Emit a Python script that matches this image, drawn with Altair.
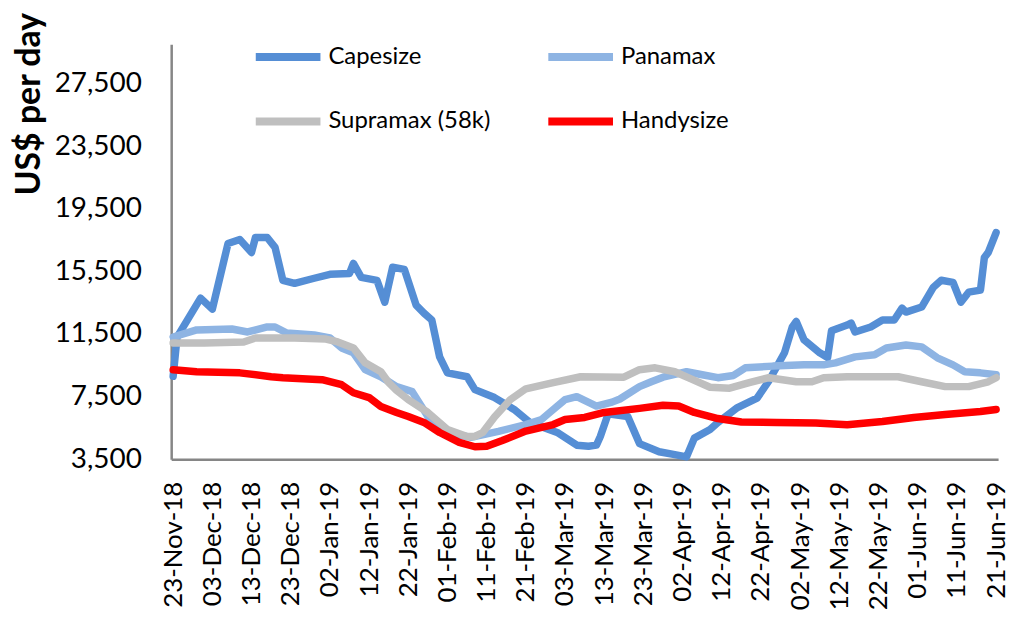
import altair as alt
import pandas as pd

# ---------------- data ----------------
series_names = ["Capesize", "Panamax", "Supramax (58k)", "Handysize"]
series_colors = ["#558ED5", "#8EB4E3", "#BFBFBF", "#FF0000"]
# legend fills column by column, so list the names in that order
legend_order = ["Capesize", "Supramax (58k)", "Panamax", "Handysize"]
legend_colors = ["#558ED5", "#BFBFBF", "#8EB4E3", "#FF0000"]

cape_dates = ["2018-11-23", "2018-11-24", "2018-11-30", "2018-12-03", "2018-12-07", "2018-12-10",
              "2018-12-13", "2018-12-14", "2018-12-17", "2018-12-19", "2018-12-21", "2018-12-24",
              "2018-12-29", "2019-01-02", "2019-01-07", "2019-01-08", "2019-01-10", "2019-01-14",
              "2019-01-16", "2019-01-18", "2019-01-21", "2019-01-24", "2019-01-26", "2019-01-28",
              "2019-01-30", "2019-02-01", "2019-02-06", "2019-02-08", "2019-02-13", "2019-02-18",
              "2019-02-22", "2019-03-01", "2019-03-06", "2019-03-09", "2019-03-11", "2019-03-12",
              "2019-03-14", "2019-03-19", "2019-03-22", "2019-03-27", "2019-03-31", "2019-04-03",
              "2019-04-05", "2019-04-09", "2019-04-11", "2019-04-16", "2019-04-21", "2019-04-24",
              "2019-04-28", "2019-04-30", "2019-05-01", "2019-05-03", "2019-05-07", "2019-05-09",
              "2019-05-10", "2019-05-14", "2019-05-15", "2019-05-16", "2019-05-20", "2019-05-23",
              "2019-05-26", "2019-05-28", "2019-05-29", "2019-06-02", "2019-06-05", "2019-06-07",
              "2019-06-10", "2019-06-12", "2019-06-14", "2019-06-17", "2019-06-18", "2019-06-19",
              "2019-06-21"]
cape_vals = [8800, 11300, 13790, 13090, 17280, 17530,
             16710, 17660, 17660, 17030, 14930, 14740,
             15060, 15310, 15370, 16010, 15120, 14930,
             13530, 15760, 15630, 13340, 12830, 12390,
             10040, 9020, 8770, 7950, 7440, 6680,
             5850, 5210, 4400, 4330, 4400, 4960,
             6400, 6230, 4500, 3980, 3800, 3650,
             4850, 5400, 5850, 6800, 7400, 8500,
             10300, 11950, 12300, 11120, 10300, 10000,
             11700, 12070, 12200, 11630, 11950, 12390,
             12390, 13150, 12900, 13220, 14490, 14930,
             14800, 13530, 14170, 14300, 16390, 16710,
             17980]

pana_dates = ["2018-11-23", "2018-11-29", "2018-12-08", "2018-12-12", "2018-12-17", "2018-12-19",
              "2018-12-22", "2018-12-29", "2019-01-02", "2019-01-05", "2019-01-08", "2019-01-11",
              "2019-01-15", "2019-01-19", "2019-01-23", "2019-01-27", "2019-02-01", "2019-02-07",
              "2019-02-14", "2019-02-21", "2019-02-25", "2019-02-28", "2019-03-03", "2019-03-06",
              "2019-03-11", "2019-03-15", "2019-03-17", "2019-03-22", "2019-03-25", "2019-03-28",
              "2019-04-03", "2019-04-07", "2019-04-11", "2019-04-15", "2019-04-18", "2019-04-25",
              "2019-05-03", "2019-05-08", "2019-05-11", "2019-05-16", "2019-05-21", "2019-05-24",
              "2019-05-29", "2019-06-02", "2019-06-06", "2019-06-10", "2019-06-13", "2019-06-17",
              "2019-06-21"]
pana_vals = [11310, 11760, 11820, 11630, 11950, 11950,
             11560, 11440, 11250, 10610, 10300, 9220,
             8770, 8140, 7820, 6230, 5210, 4900,
             5280, 5720, 6040, 6680, 7310, 7500,
             6900, 7150, 7350, 8140, 8450, 8740,
             9090, 8900, 8710, 8850, 9340, 9450,
             9530, 9530, 9660, 10040, 10170, 10610,
             10800, 10680, 9980, 9530, 9090, 9020,
             8900]

supra_dates = ["2018-11-23", "2018-12-01", "2018-12-11", "2018-12-14", "2018-12-19", "2018-12-24",
               "2019-01-01", "2019-01-04", "2019-01-08", "2019-01-11", "2019-01-15", "2019-01-17",
               "2019-01-19", "2019-01-22", "2019-01-27", "2019-02-01", "2019-02-06", "2019-02-08",
               "2019-02-10", "2019-02-13", "2019-02-17", "2019-02-21", "2019-02-28", "2019-03-07",
               "2019-03-18", "2019-03-22", "2019-03-26", "2019-03-31", "2019-04-04", "2019-04-09",
               "2019-04-14", "2019-04-19", "2019-04-24", "2019-05-01", "2019-05-05", "2019-05-08",
               "2019-05-14", "2019-05-27", "2019-06-02", "2019-06-08", "2019-06-14", "2019-06-19",
               "2019-06-21"]
supra_vals = [10930, 10930, 10990, 11250, 11250, 11250,
              11180, 10990, 10610, 9660, 9090, 8390,
              7900, 7310, 6490, 5400, 4960, 4960,
              5210, 6200, 7300, 8000, 8400, 8770,
              8740, 9220, 9340, 9090, 8650, 8100,
              8040, 8390, 8710, 8450, 8450, 8710,
              8770, 8770, 8450, 8140, 8140, 8450,
              8710]

handy_dates = ["2018-11-23", "2018-11-29", "2018-12-10", "2018-12-18", "2018-12-21", "2018-12-31",
               "2019-01-05", "2019-01-08", "2019-01-12", "2019-01-15", "2019-01-19", "2019-01-22",
               "2019-01-26", "2019-01-30", "2019-02-04", "2019-02-08", "2019-02-11", "2019-02-15",
               "2019-02-21", "2019-02-28", "2019-03-03", "2019-03-08", "2019-03-13", "2019-03-22",
               "2019-03-28", "2019-04-01", "2019-04-05", "2019-04-11", "2019-04-17", "2019-04-26",
               "2019-05-06", "2019-05-14", "2019-05-23", "2019-05-31", "2019-06-08", "2019-06-17",
               "2019-06-21"]
handy_vals = [9220, 9090, 9020, 8770, 8710, 8580,
              8260, 7750, 7440, 6870, 6490, 6230,
              5850, 5210, 4580, 4300, 4330, 4700,
              5300, 5720, 6040, 6170, 6490, 6750,
              6950, 6900, 6490, 6100, 5880, 5850,
              5820, 5700, 5910, 6170, 6360, 6550,
              6680]

y_tick_values = [3500, 7500, 11500, 15500, 19500, 23500, 27500]
x_tick_dates = ["2018-11-23", "2018-12-03", "2018-12-13", "2018-12-23", "2019-01-02", "2019-01-12",
                "2019-01-22", "2019-02-01", "2019-02-11", "2019-02-21", "2019-03-03", "2019-03-13",
                "2019-03-23", "2019-04-02", "2019-04-12", "2019-04-22", "2019-05-02", "2019-05-12",
                "2019-05-22", "2019-06-01", "2019-06-11", "2019-06-21"]

# ---------------- build table (data order = drawing order) ----------------
frames = []
for name, dates, vals in [
    (series_names[0], cape_dates, cape_vals),
    (series_names[1], pana_dates, pana_vals),
    (series_names[2], supra_dates, supra_vals),
    (series_names[3], handy_dates, handy_vals),
]:
    frames.append(pd.DataFrame({"date": pd.to_datetime(dates), "value": vals, "series": name}))
df = pd.concat(frames, ignore_index=True)


def dt(s, hours=0):
    y, m, d = (int(p) for p in s.split("-"))
    return alt.DateTime(year=y, month=m, date=d, hours=hours)


FONT = "Lato"

chart = alt.Chart(df).mark_line(
    strokeWidth=7.5, strokeJoin="round", strokeCap="round"
).encode(
    x=alt.X(
        "date:T",
        scale=alt.Scale(domain=[dt("2018-11-22", 12), dt("2019-06-21", 12)]),
        axis=alt.Axis(
            values=[dt(s) for s in x_tick_dates],
            format="%d-%b-%y",
            labelAngle=270,
            title=None,
            grid=False,
            ticks=False,
            tickSize=0,
            labelPadding=22,
            labelFont=FONT,
            labelFontSize=26,
            labelColor="#000000",
            labelOverlap=False,
            labelFlush=False,
            domainColor="#868686",
            domainWidth=2.5,
        ),
    ),
    y=alt.Y(
        "value:Q",
        scale=alt.Scale(domain=[3500, 30000], nice=False, zero=False),
        axis=alt.Axis(
            values=y_tick_values,
            format=",.0f",
            title="US$ per day",
            titleFont=FONT,
            titleFontSize=34,
            titleFontWeight="bold",
            titleColor="#000000",
            titleAngle=270,
            titleAlign="right",
            titleBaseline="middle",
            titleX=-142,
            titleY=-32,
            grid=False,
            ticks=False,
            tickSize=0,
            labelPadding=30,
            labelFont=FONT,
            labelFontSize=28,
            labelColor="#000000",
            labelOverlap=False,
            labelFlush=False,
            domainColor="#868686",
            domainWidth=2.5,
        ),
    ),
    color=alt.Color(
        "series:N",
        scale=alt.Scale(domain=legend_order, range=legend_colors),
        legend=alt.Legend(
            title=None,
            orient="none",
            legendX=81,
            legendY=-24,
            columns=2,
            symbolType="stroke",
            symbolSize=4225,
            symbolStrokeWidth=8,
            labelFont=FONT,
            labelFontSize=24,
            labelColor="#000000",
            labelOffset=4,
            columnPadding=42,
            rowPadding=12,
            labelLimit=400,
        ),
    ),
).properties(
    width=831,
    height=417,
    padding={"left": 164, "top": 35, "right": 16, "bottom": 155},
    autosize=alt.AutoSizeParams(type="none"),
).configure_view(stroke=None)

chart.save("out.html", embed_options={"renderer": "svg", "actions": False})
